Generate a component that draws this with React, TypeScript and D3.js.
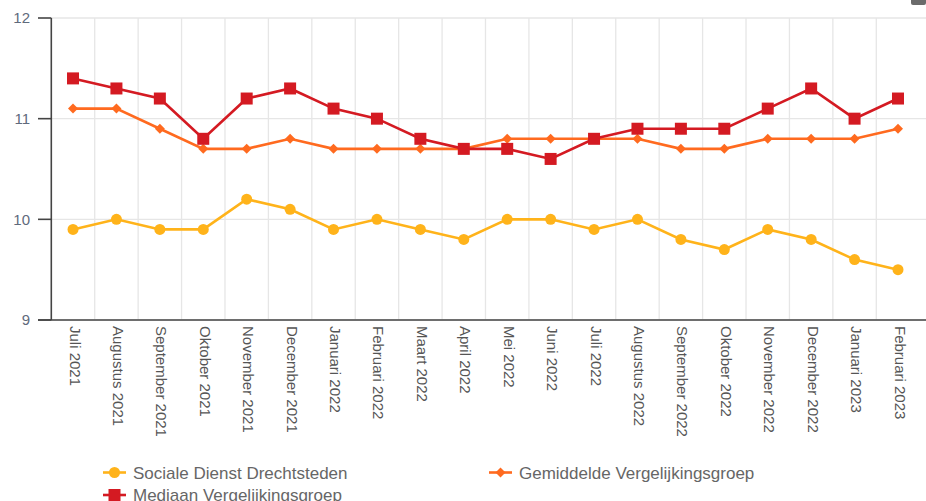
import React from "react";
import * as d3 from "d3";

const categories = [
  "Juli 2021", "Augustus 2021", "September 2021", "Oktober 2021", "November 2021",
  "December 2021", "Januari 2022", "Februari 2022", "Maart 2022", "April 2022",
  "Mei 2022", "Juni 2022", "Juli 2022", "Augustus 2022", "September 2022",
  "Oktober 2022", "November 2022", "December 2022", "Januari 2023", "Februari 2023",
];
const sdd = [9.9, 10.0, 9.9, 9.9, 10.2, 10.1, 9.9, 10.0, 9.9, 9.8, 10.0, 10.0, 9.9, 10.0, 9.8, 9.7, 9.9, 9.8, 9.6, 9.5];
const gemiddelde = [11.1, 11.1, 10.9, 10.7, 10.7, 10.8, 10.7, 10.7, 10.7, 10.7, 10.8, 10.8, 10.8, 10.8, 10.7, 10.7, 10.8, 10.8, 10.8, 10.9];
const mediaan = [11.4, 11.3, 11.2, 10.8, 11.2, 11.3, 11.1, 11.0, 10.8, 10.7, 10.7, 10.6, 10.8, 10.9, 10.9, 10.9, 11.1, 11.3, 11.0, 11.2];
const yTicks = [9, 10, 11, 12];
const seriesNames = ["Sociale Dienst Drechtsteden", "Gemiddelde Vergelijkingsgroep", "Mediaan Vergelijkingsgroep"];

const W = 926, H = 501;
const left = 51.3, right = 919.7, top = 18, bottom = 320;
const colors = ["#FFB31A", "#FF6A1F", "#D41A22"];

function Marker({ kind, x, y, color }: { kind: number; x: number; y: number; color: string }) {
  if (kind === 0) return <circle cx={x} cy={y} r={5.5} fill={color} />;
  if (kind === 1) {
    const s = 5;
    return <path d={`M${x},${y - s}L${x + s},${y}L${x},${y + s}L${x - s},${y}Z`} fill={color} />;
  }
  return <rect x={x - 6} y={y - 6} width={12} height={12} fill={color} />;
}

export default function App() {
  const x = d3.scaleBand<string>().domain(categories).range([left, right]);
  const y = d3.scaleLinear().domain([9, 12]).range([bottom, top]);
  const cx = (c: string) => (x(c) as number) + x.bandwidth() / 2;
  const all = [sdd, gemiddelde, mediaan];
  const line = d3.line<number>().x((_, i) => cx(categories[i])).y((d) => y(d));
  const font = "Arial, 'Liberation Sans', sans-serif";

  return (
    <svg width={W} height={H} style={{ position: "fixed", left: 0, top: 0, background: "#fff" }} fontFamily={font}>
      <rect x={911} y={-4} width={15} height={9} rx={2} fill="#6b6b6b" />
      {/* vertical grid */}
      {categories.slice(1).map((c) => (
        <line key={c} x1={x(c)} x2={x(c)} y1={top} y2={bottom} stroke="#e6e6e6" strokeWidth={1.3} />
      ))}
      {/* horizontal grid */}
      {yTicks.map((t) => (
        <line key={t} x1={left} x2={W} y1={y(t)} y2={y(t)} stroke="#e6e6e6" strokeWidth={1.3} />
      ))}
      {/* axes */}
      <line x1={left} x2={left} y1={top} y2={bottom} stroke="#444" strokeWidth={1.6} />
      <line x1={38} x2={W} y1={bottom} y2={bottom} stroke="#444" strokeWidth={1.6} />
      {yTicks.map((t) => (
        <g key={t}>
          <line x1={38} x2={left} y1={y(t)} y2={y(t)} stroke="#444" strokeWidth={1.6} />
          <text x={30} y={y(t)} dy="0.35em" textAnchor="end" fontSize={15} fill="#5f6a7c">{t}</text>
        </g>
      ))}
      {categories.map((c) => (
        <text key={c} transform={`translate(${cx(c) + 0.5},${bottom + 6}) rotate(90)`} fontSize={15} fill="#555" dominantBaseline="middle">
          {c}
        </text>
      ))}
      {all.map((s, k) => (
        <g key={k}>
          <path d={line(s) as string} fill="none" stroke={colors[k]} strokeWidth={2.6} />
          {s.map((v, i) => (
            <Marker key={i} kind={k} x={cx(categories[i])} y={y(v)} color={colors[k]} />
          ))}
        </g>
      ))}
      {/* legend */}
      {seriesNames.map((n, k) => {
        const lx = k === 1 ? 489 : 103;
        const ly = k === 2 ? 495 : 472.5;
        return (
          <g key={n}>
            <line x1={lx} x2={lx + 23} y1={ly} y2={ly} stroke={colors[k]} strokeWidth={2.6} />
            <Marker kind={k} x={lx + 11.5} y={ly} color={colors[k]} />
            <text x={lx + 30} y={ly} dy="0.36em" fontSize={17} fill="#666">{n}</text>
          </g>
        );
      })}
    </svg>
  );
}
